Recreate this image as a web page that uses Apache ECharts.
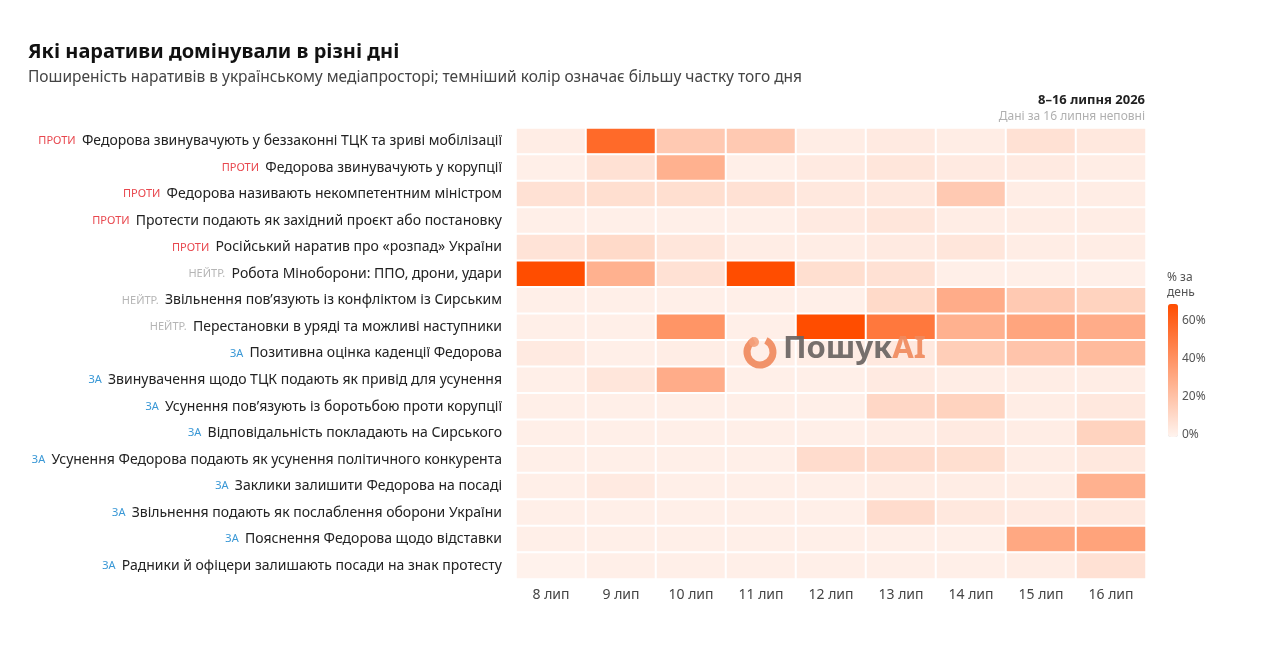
<!DOCTYPE html>
<html>
<head>
<meta charset="utf-8">
<script src="https://cdn.jsdelivr.net/npm/echarts@6/dist/echarts.min.js"></script>
<style>
  html, body { margin: 0; padding: 0; background: #fff; }
  #main { width: 1280px; height: 664px; }
</style>
</head>
<body>
<div id="main"></div>
<script>
// дні
var days = ['8 лип', '9 лип', '10 лип', '11 лип', '12 лип', '13 лип', '14 лип', '15 лип', '16 лип'];
// позиція наративу
var stances = ['ПРОТИ', 'ПРОТИ', 'ПРОТИ', 'ПРОТИ', 'ПРОТИ', 'НЕЙТР.', 'НЕЙТР.', 'НЕЙТР.',
  'ЗА', 'ЗА', 'ЗА', 'ЗА', 'ЗА', 'ЗА', 'ЗА', 'ЗА', 'ЗА'];
var narratives = [
  'Федорова звинувачують у беззаконні ТЦК та зриві мобілізації',
  'Федорова звинувачують у корупції',
  'Федорова називають некомпетентним міністром',
  'Протести подають як західний проєкт або постановку',
  'Російський наратив про «розпад» України',
  'Робота Міноборони: ППО, дрони, удари',
  'Звільнення пов’язують із конфліктом із Сирським',
  'Перестановки в уряді та можливі наступники',
  'Позитивна оцінка каденції Федорова',
  'Звинувачення щодо ТЦК подають як привід для усунення',
  'Усунення пов’язують із боротьбою проти корупції',
  'Відповідальність покладають на Сирського',
  'Усунення Федорова подають як усунення політичного конкурента',
  'Заклики залишити Федорова на посаді',
  'Звільнення подають як послаблення оборони України',
  'Пояснення Федорова щодо відставки',
  'Радники й офіцери залишають посади на знак протесту'
];
// % за день, рядок = наратив, стовпчик = день
var shares = [
  [3, 58, 18, 18, 3, 4, 3, 8, 5],
  [2, 8, 28, 2, 4, 6, 4, 4, 3],
  [8, 9, 9, 8, 5, 5, 18, 3, 3],
  [2, 2, 2, 2, 4, 6, 3, 3, 3],
  [7, 11, 6, 3, 3, 4, 6, 3, 3],
  [70, 28, 8, 70, 9, 8, 2, 2, 2],
  [2, 2, 2, 2, 2, 11, 30, 18, 14],
  [2, 2, 40, 2, 70, 52, 28, 33, 30],
  [4, 2, 3, 2, 3, 5, 16, 20, 24],
  [2, 6, 30, 2, 2, 4, 3, 3, 3],
  [2, 2, 2, 2, 2, 12, 14, 3, 5],
  [2, 2, 2, 2, 2, 3, 4, 3, 14],
  [2, 2, 2, 2, 10, 10, 9, 3, 5],
  [2, 4, 2, 2, 2, 3, 3, 3, 28],
  [2, 2, 2, 2, 2, 10, 5, 4, 5],
  [2, 2, 2, 2, 2, 2, 2, 32, 34],
  [1, 2, 2, 2, 2, 2, 2, 3, 8]
];
var legendTicks = [0, 20, 40, 60];

var font = '"Noto Sans", sans-serif';
var stanceStyle = { 'ПРОТИ': 'against', 'НЕЙТР.': 'neutral', 'ЗА': 'pro' };

var cells = [];
for (var r = 0; r < narratives.length; r++) {
  for (var c = 0; c < days.length; c++) {
    cells.push([c, r, shares[r][c]]);
  }
}

var myChart = echarts.init(document.getElementById('main'));

// легенда: 0..70 на 133px
var lgTop = 304, lgH = 133, lgMax = 70;
var graphics = [
  { type: 'text', left: 28, top: 42, style: { text: 'Які наративи домінували в різні дні', font: 'bold 20px ' + font, fill: '#111' } },
  { type: 'text', left: 28, top: 70, style: { text: 'Поширеність наративів в українському медіапросторі; темніший колір означає більшу частку того дня', font: '15.5px ' + font, fill: '#444' } },
  { type: 'text', right: 135, top: 94, style: { text: '8–16 липня 2026', font: 'bold 13px ' + font, fill: '#222' } },
  { type: 'text', right: 135, top: 111, style: { text: 'Дані за 16 липня неповні', font: '12px ' + font, fill: '#b0b0b0' } },
  { type: 'text', left: 1167, top: 270, style: { text: '% за\nдень', font: '12px ' + font, fill: '#555', lineHeight: 15 } },
  // водяний знак
  { type: 'arc', z: 100, shape: { cx: 760, cy: 352, r: 13, startAngle: -Math.PI * 0.35, endAngle: Math.PI * 1.35, clockwise: true },
    style: { stroke: '#f08a5d', lineWidth: 7, fill: 'none', opacity: 0.92 } },
  { type: 'circle', z: 100, shape: { cx: 754, cy: 342, r: 5 }, style: { fill: '#f4a07a', opacity: 0.9 } },
  {
    type: 'text', z: 100, left: 783, top: 334,
    style: {
      text: '{a|Пошук}{b|AI}',
      rich: {
        a: { fontSize: 31, fontWeight: 'bold', fill: '#6a6462', fontFamily: font },
        b: { fontSize: 31, fontWeight: 'bold', fill: '#f08a5d', fontFamily: font }
      },
      opacity: 0.92
    }
  }
];
legendTicks.forEach(function (t) {
  graphics.push({
    type: 'text', left: 1182, top: lgTop + lgH - t / lgMax * lgH - 8,
    style: { text: t + '%', font: '12px ' + font, fill: '#555' }
  });
});

var option = {
  backgroundColor: '#fff',
  textStyle: { fontFamily: font },
  grid: { left: 516, right: 134, top: 128, bottom: 85 },
  xAxis: {
    type: 'category',
    data: days,
    axisLine: { show: false },
    axisTick: { show: false },
    splitArea: { show: false },
    axisLabel: { color: '#444', fontSize: 14, margin: 9 }
  },
  yAxis: {
    type: 'category',
    data: narratives,
    inverse: true,
    axisLine: { show: false },
    axisTick: { show: false },
    axisLabel: {
      margin: 14,
      formatter: function (value, idx) {
        return '{' + stanceStyle[stances[idx]] + '|' + stances[idx] + '}  {t|' + value + '}';
      },
      rich: {
        against: { color: '#e8474e', fontSize: 11 },
        neutral: { color: '#b5b5b5', fontSize: 11 },
        pro: { color: '#3a98d6', fontSize: 11 },
        t: { color: '#222', fontSize: 14 }
      }
    }
  },
  visualMap: {
    type: 'continuous',
    min: 0,
    max: lgMax,
    calculable: false,
    showLabel: false,
    padding: 0,
    orient: 'vertical',
    left: 1168,
    top: lgTop,
    itemWidth: 10,
    itemHeight: lgH,
    inRange: { color: ['#fff4ef', '#ff4d00'] }
  },
  graphic: graphics,
  series: [{
    type: 'heatmap',
    data: cells,
    itemStyle: { borderColor: '#fff', borderWidth: 2 },
    emphasis: { disabled: true },
    label: { show: false }
  }]
};

myChart.setOption(option);
</script>
</body>
</html>
